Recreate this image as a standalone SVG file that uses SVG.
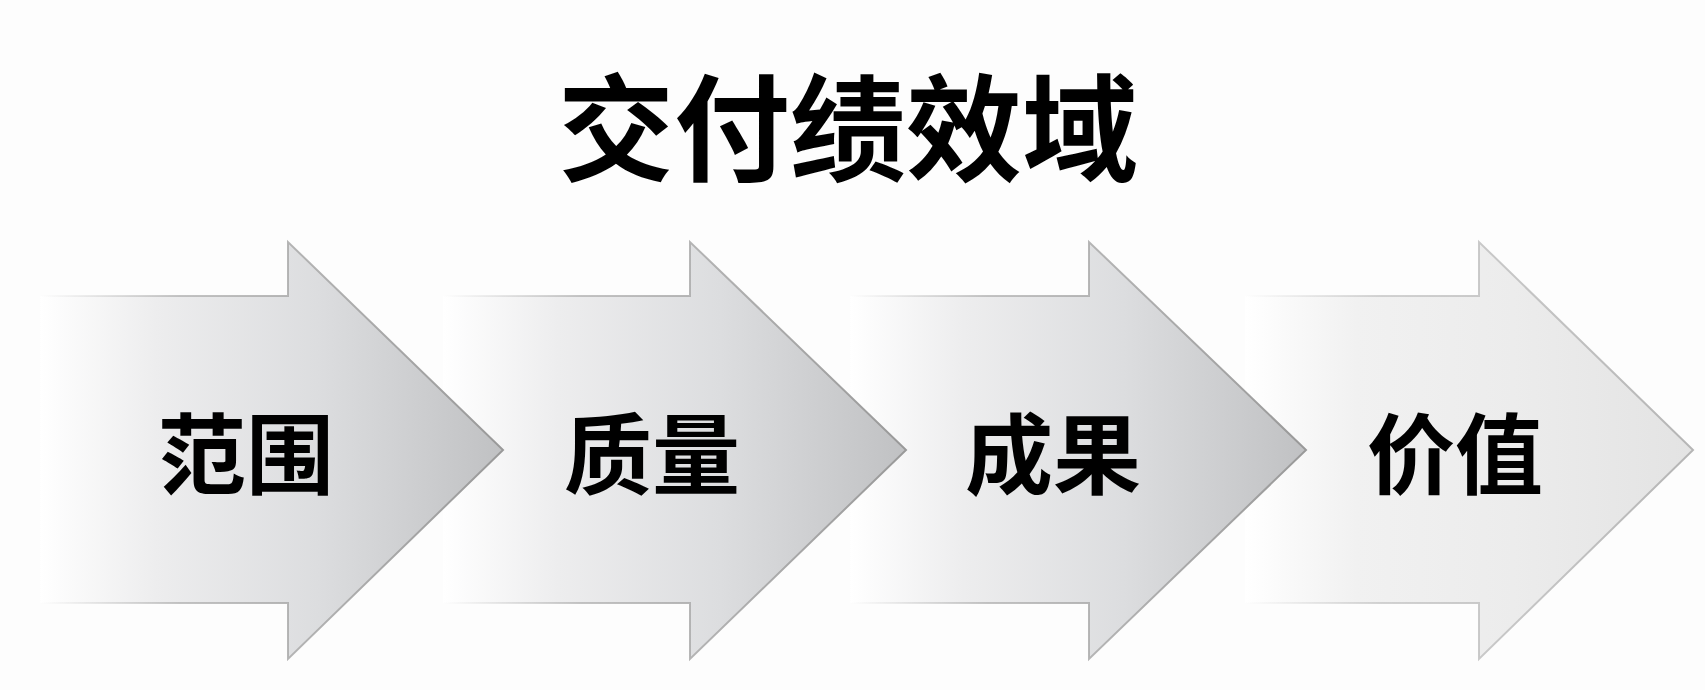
<svg xmlns="http://www.w3.org/2000/svg" width="1705" height="690" viewBox="0 0 1705 690">
  <defs>
    <linearGradient id="g1" gradientUnits="userSpaceOnUse" x1="40" y1="0" x2="503" y2="0">
      <stop offset="0" stop-color="#ffffff"/>
      <stop offset="0.25" stop-color="#ededee"/>
      <stop offset="0.6" stop-color="#dcdddf"/>
      <stop offset="1" stop-color="#c0c1c3"/>
    </linearGradient>
    <linearGradient id="s1" gradientUnits="userSpaceOnUse" x1="40" y1="0" x2="503" y2="0">
      <stop offset="0" stop-color="#bdbdbd" stop-opacity="0"/>
      <stop offset="0.3" stop-color="#b5b5b5" stop-opacity="0.8"/>
      <stop offset="1" stop-color="#999999"/>
    </linearGradient>
    <linearGradient id="g2" gradientUnits="userSpaceOnUse" x1="443" y1="0" x2="906" y2="0">
      <stop offset="0" stop-color="#ffffff"/>
      <stop offset="0.25" stop-color="#ededee"/>
      <stop offset="0.6" stop-color="#dcdddf"/>
      <stop offset="1" stop-color="#c0c1c3"/>
    </linearGradient>
    <linearGradient id="s2" gradientUnits="userSpaceOnUse" x1="443" y1="0" x2="906" y2="0">
      <stop offset="0" stop-color="#bdbdbd" stop-opacity="0"/>
      <stop offset="0.3" stop-color="#b5b5b5" stop-opacity="0.8"/>
      <stop offset="1" stop-color="#999999"/>
    </linearGradient>
    <linearGradient id="g3" gradientUnits="userSpaceOnUse" x1="850" y1="0" x2="1306" y2="0">
      <stop offset="0" stop-color="#ffffff"/>
      <stop offset="0.25" stop-color="#ededee"/>
      <stop offset="0.6" stop-color="#dcdddf"/>
      <stop offset="1" stop-color="#c0c1c3"/>
    </linearGradient>
    <linearGradient id="s3" gradientUnits="userSpaceOnUse" x1="850" y1="0" x2="1306" y2="0">
      <stop offset="0" stop-color="#bdbdbd" stop-opacity="0"/>
      <stop offset="0.3" stop-color="#b5b5b5" stop-opacity="0.8"/>
      <stop offset="1" stop-color="#999999"/>
    </linearGradient>
    <linearGradient id="g4" gradientUnits="userSpaceOnUse" x1="1245" y1="0" x2="1693" y2="0">
      <stop offset="0" stop-color="#ffffff"/>
      <stop offset="0.25" stop-color="#f1f1f1"/>
      <stop offset="0.6" stop-color="#ececec"/>
      <stop offset="1" stop-color="#e3e3e3"/>
    </linearGradient>
    <linearGradient id="s4" gradientUnits="userSpaceOnUse" x1="1245" y1="0" x2="1693" y2="0">
      <stop offset="0" stop-color="#cccccc" stop-opacity="0"/>
      <stop offset="0.3" stop-color="#c8c8c8" stop-opacity="0.8"/>
      <stop offset="1" stop-color="#b5b5b5"/>
    </linearGradient>
  </defs>
  <style>
    .lbl { font-family: "Noto Sans CJK SC", "Noto Sans", sans-serif; font-weight: 700; font-size: 88px; fill: #000; text-anchor: middle; }
    .title { font-family: "Noto Sans CJK SC", "Noto Sans", sans-serif; font-weight: 700; font-size: 116px; fill: #000; text-anchor: middle; }
    .arrow { stroke-width: 2; stroke-linejoin: miter; }
  </style>
  <rect x="0" y="0" width="1705" height="690" fill="#fdfdfd"/>

  <g id="title">
    <text class="title" x="848" y="172">交付绩效域</text>
  </g>

  <g id="connectors"></g>

  <g id="node-value">
    <polygon class="arrow" points="1245,296 1479,296 1479,242 1693,450 1479,659 1479,603 1245,603" fill="url(#g4)" stroke="url(#s4)"/>
    <text class="lbl" x="1455" y="487">价值</text>
  </g>
  <g id="node-result">
    <polygon class="arrow" points="850,296 1089,296 1089,242 1306,450 1089,659 1089,603 850,603" fill="url(#g3)" stroke="url(#s3)"/>
    <text class="lbl" x="1053" y="487">成果</text>
  </g>
  <g id="node-quality">
    <polygon class="arrow" points="443,296 690,296 690,242 906,450 690,659 690,603 443,603" fill="url(#g2)" stroke="url(#s2)"/>
    <text class="lbl" x="652" y="487">质量</text>
  </g>
  <g id="node-scope">
    <polygon class="arrow" points="40,296 288,296 288,242 503,450 288,659 288,603 40,603" fill="url(#g1)" stroke="url(#s1)"/>
    <text class="lbl" x="246" y="487">范围</text>
  </g>
</svg>
